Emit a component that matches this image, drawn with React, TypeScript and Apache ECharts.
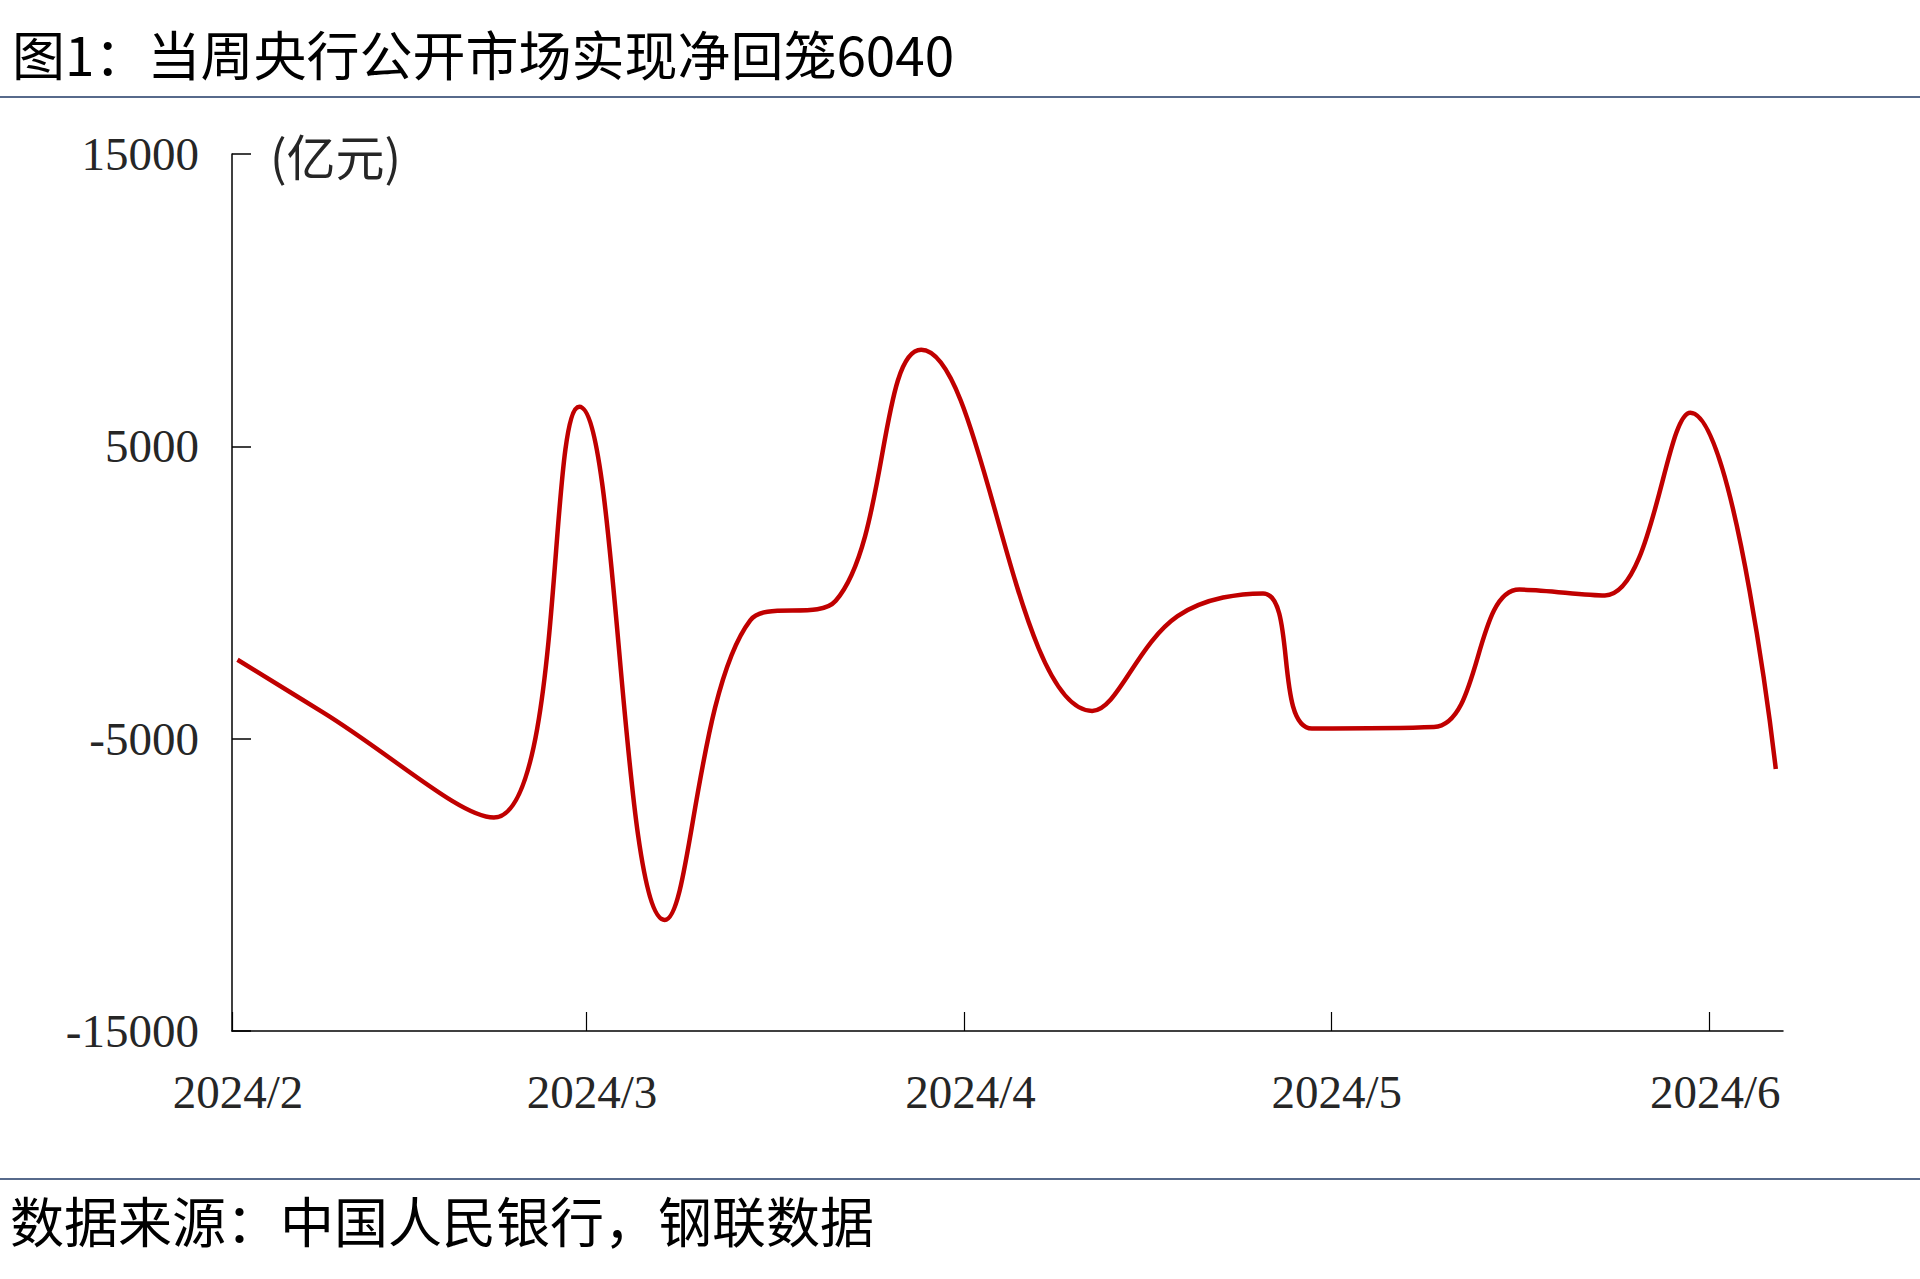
import React, { useEffect, useRef } from 'react';
import * as echarts from 'echarts';

const DAY = 86400000;

// Weekly observation dates (holiday weeks absent) and net injection (亿元)
const weekDates = [
  '2024-02-02', '2024-02-09', '2024-02-23', '2024-03-01', '2024-03-08',
  '2024-03-15', '2024-03-22', '2024-03-29', '2024-04-12',
  '2024-04-19', '2024-04-26', '2024-04-30', '2024-05-10', '2024-05-17',
  '2024-05-24', '2024-05-31', '2024-06-07',
];
const netInjection = [
  -2300, -4100, -7700, 6350, -11200,
  -950, -280, 8300, -4050,
  -810, -30, -4650, -4600, 100,
  -100, 6150, -6040,
];

const monthTicks = ['2024-02-01', '2024-03-01', '2024-04-01', '2024-05-01', '2024-06-01'];
const axisEndDate = '2024-06-07';

const titleText = '图1：当周央行公开市场实现净回笼6040';
const sourceText = '数据来源：中国人民银行，钢联数据';
const unitText = '(亿元)';

const toLocal = (s: string) => {
  const [y, m, d] = s.split('-').map(Number);
  return new Date(y, m - 1, d).getTime();
};

// Date axis offset (the reference plots ticks slightly after midnight of each month start)
const SHIFT = 0.55 * DAY;

export default function App() {
  const ref = useRef<HTMLDivElement>(null);

  useEffect(() => {
    if (!ref.current) return;
    const chart = echarts.init(ref.current, undefined, { renderer: 'svg' });
    const serifFont = '"Liberation Serif", "Times New Roman", serif';
    const cjkFont = '"Noto Sans CJK SC", sans-serif';
    const tickVals = monthTicks.map((d) => toLocal(d) + SHIFT);

    chart.setOption({
      animation: false,
      backgroundColor: '#ffffff',
      grid: {
        left: 232,
        right: 137,
        top: 154,
        bottom: 248,
        containLabel: false,
        outerBoundsMode: 'none',
      },
      xAxis: {
        type: 'value',
        min: toLocal(monthTicks[0]) + SHIFT,
        max: toLocal(axisEndDate) + 0.04 * DAY + SHIFT,
        axisLine: { show: true, onZero: false, lineStyle: { color: '#000000', width: 1.5 } },
        axisTick: {
          show: true,
          inside: true,
          length: 19,
          customValues: tickVals,
          lineStyle: { color: '#000000', width: 1.2 },
        },
        axisLabel: {
          customValues: tickVals,
          hideOverlap: false,
          showMinLabel: true,
          showMaxLabel: true,
          margin: 37,
          padding: [0, 0, 0, 12],
          color: '#262626',
          fontSize: 47,
          fontFamily: serifFont,
          formatter: (val: number) => {
            const d = new Date(val - SHIFT);
            return `${d.getFullYear()}/${d.getMonth() + 1}`;
          },
        },
        splitLine: { show: false },
      },
      yAxis: {
        type: 'value',
        min: -15000,
        max: 15000,
        interval: 10000,
        axisLine: { show: true, onZero: false, lineStyle: { color: '#000000', width: 1.5 } },
        axisTick: { show: true, inside: true, length: 19, lineStyle: { color: '#000000', width: 1.5 } },
        axisLabel: {
          margin: 33,
          color: '#262626',
          fontSize: 47,
          fontFamily: serifFont,
          formatter: (v: number) => String(v),
        },
        splitLine: { show: false },
      },
      series: [
        {
          type: 'line',
          data: weekDates.map((d, i) => [toLocal(d), netInjection[i]]),
          smooth: 0.4,
          showSymbol: false,
          symbol: 'none',
          clip: false,
          lineStyle: { color: '#C00000', width: 4.5, cap: 'butt' },
        },
      ],
      graphic: [
        {
          type: 'text',
          x: 12,
          y: 53,
          style: { text: titleText, font: `53px ${cjkFont}`, fill: '#000000', verticalAlign: 'middle', align: 'left' },
        },
        {
          type: 'line',
          shape: { x1: 0, y1: 97, x2: 1920, y2: 97 },
          style: { stroke: '#1F3864', lineWidth: 1.5 },
        },
        {
          type: 'text',
          x: 270,
          y: 154,
          style: { text: unitText, font: `49px ${cjkFont}`, fill: '#262626', verticalAlign: 'middle', align: 'left' },
        },
        {
          type: 'line',
          shape: { x1: 0, y1: 1179, x2: 1920, y2: 1179 },
          style: { stroke: '#1F3864', lineWidth: 1.5 },
        },
        {
          type: 'text',
          x: 10,
          y: 1219,
          style: { text: sourceText, font: `54px ${cjkFont}`, fill: '#000000', verticalAlign: 'middle', align: 'left' },
        },
      ],
    });

    return () => chart.dispose();
  }, []);

  return (
    <div
      ref={ref}
      style={{ position: 'absolute', left: 0, top: 0, width: 1920, height: 1279, background: '#ffffff' }}
    />
  );
}
